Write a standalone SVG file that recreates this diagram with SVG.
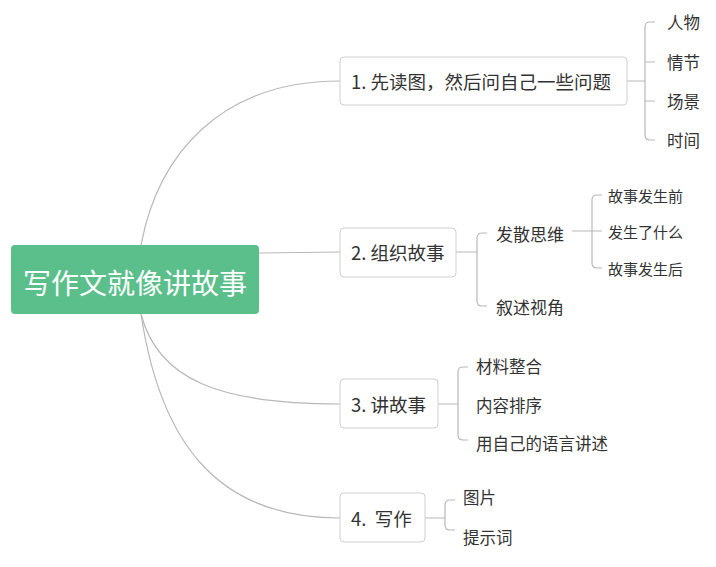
<svg xmlns="http://www.w3.org/2000/svg" width="716" height="567" viewBox="0 0 716 567">
<style>
text{font-family:"Noto Sans CJK SC","Noto Sans",sans-serif;fill:#333;dominant-baseline:central}
.c{fill:none;stroke:#b8b8b8;stroke-width:1.2}
.b{fill:#fff;stroke:#cfcfcf;stroke-width:1}
.l1{font-size:18.5px}
.l2{font-size:17px}
.l3{font-size:16.5px}
.l4{font-size:15px}
</style>
<rect width="716" height="567" fill="#fff"/>
<g id="connectors">
<path class="c" d="M141,245 C158,155 220,81 340,81"/>
<path class="c" d="M259,253 L340,252"/>
<path class="c" d="M141,314 C158,380 220,404 340,404"/>
<path class="c" d="M141,314 C160,440 215,518 340,518"/>
<path class="c" d="M627,81 H645 M655,22 H650 Q645,22 645,27 V135 Q645,140 650,140 H655 M645,62 H655 M645,101 H655"/>
<path class="c" d="M456,252 H477 M487,233 H482 Q477,233 477,238 V301 Q477,306 482,306 H487"/>
<path class="c" d="M572,231 H602 M602,195 H597 Q592,195 592,200 V263 Q592,268 597,268 H602"/>
<path class="c" d="M438,404 H458 M468,367 H463 Q458,367 458,372 V435 Q458,440 463,440 H468"/>
<path class="c" d="M425,518 H445 M455,500 H450 Q445,500 445,505 V525 Q445,530 450,530 H455"/>
</g>
<g id="root">
<rect x="11" y="245" width="248" height="69" rx="4" fill="#5bbf8c"/>
<text x="135" y="282" font-size="28" text-anchor="middle" style="fill:#fff">写作文就像讲故事</text>
</g>
<g id="n1">
<rect class="b" x="340" y="57" width="287" height="48" rx="4"/>
<text class="l1" x="351" y="81">1. 先读图，然后问自己一些问题</text>
</g>
<g id="n1a"><text class="l3" x="667" y="22">人物</text></g>
<g id="n1b"><text class="l3" x="667" y="62">情节</text></g>
<g id="n1c"><text class="l3" x="667" y="101">场景</text></g>
<g id="n1d"><text class="l3" x="667" y="140">时间</text></g>
<g id="n2">
<rect class="b" x="340" y="228" width="116" height="49" rx="4"/>
<text class="l1" x="351" y="252">2. 组织故事</text>
</g>
<g id="n2a"><text class="l2" x="496" y="233">发散思维</text></g>
<g id="n2b"><text class="l2" x="496" y="306">叙述视角</text></g>
<g id="n2a1"><text class="l4" x="608" y="195">故事发生前</text></g>
<g id="n2a2"><text class="l4" x="608" y="231">发生了什么</text></g>
<g id="n2a3"><text class="l4" x="608" y="268">故事发生后</text></g>
<g id="n3">
<rect class="b" x="340" y="379" width="98" height="49" rx="4"/>
<text class="l1" x="351" y="404">3. 讲故事</text>
</g>
<g id="n3a"><text class="l3" x="476" y="366">材料整合</text></g>
<g id="n3b"><text class="l3" x="476" y="405">内容排序</text></g>
<g id="n3c"><text class="l3" x="476" y="443">用自己的语言讲述</text></g>
<g id="n4">
<rect class="b" x="340" y="493" width="85" height="49" rx="4"/>
<text class="l1" x="351" y="518" xml:space="preserve">4.  写作</text>
</g>
<g id="n4a"><text class="l3" x="463" y="497">图片</text></g>
<g id="n4b"><text class="l3" x="463" y="537">提示词</text></g>
</svg>
